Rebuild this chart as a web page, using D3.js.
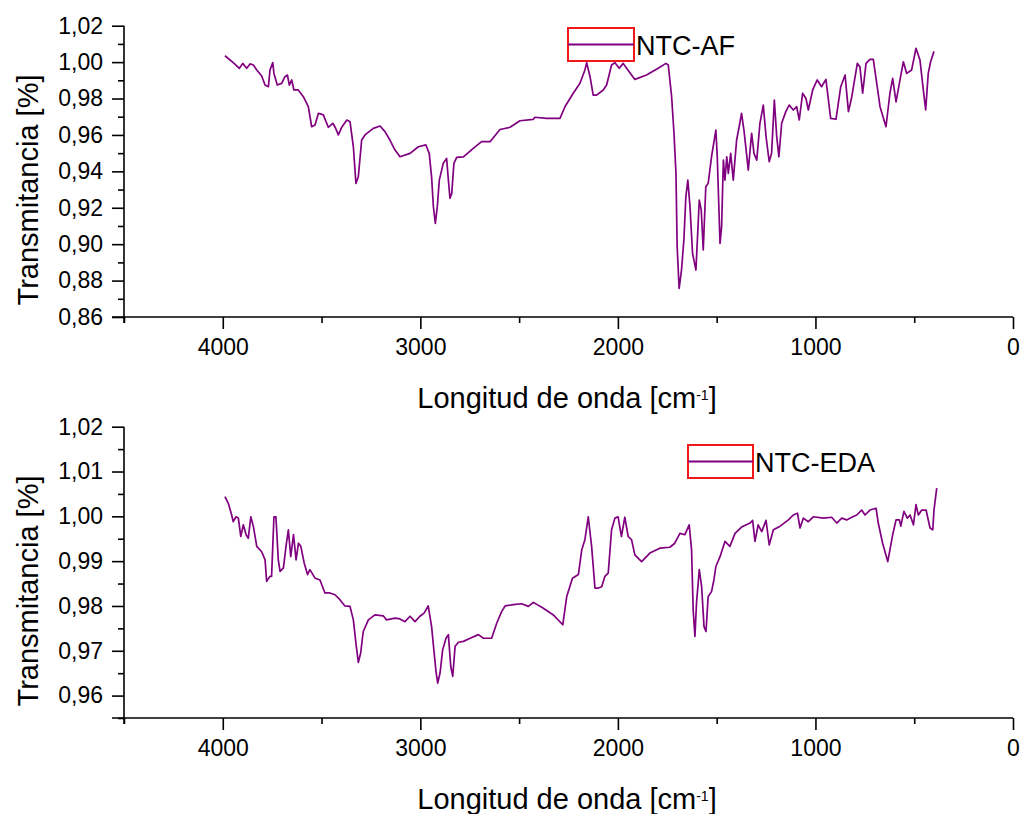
<!DOCTYPE html>
<html>
<head>
<meta charset="utf-8">
<script src="https://cdn.jsdelivr.net/npm/d3@7"></script>
<style>
  html, body { margin: 0; padding: 0; background: #fff; }
  svg text { font-family: "Liberation Sans", Arial, sans-serif; fill: #000; }
</style>
</head>
<body>
<svg width="1021" height="814"></svg>
<script>
// NTC-AF spectrum (wavenumber cm-1, transmittance)
const afWn = [3989,3947,3916,3899,3879,3862,3845,3828,3803,3786,3769,3761,3747,3741,3724,3702,3685,3673,3663,3651,3640,3618,3592,3567,3550,3533,3516,3491,3466,3443,3431,3415,3398,3372,3356,3339,3326,3314,3297,3280,3238,3204,3179,3154,3128,3103,3052,3010,2972,2955,2943,2934,2924,2914,2904,2884,2867,2858,2850,2841,2830,2816,2782,2732,2690,2647,2597,2546,2496,2428,2420,2361,2293,2268,2226,2192,2167,2158,2141,2125,2108,2074,2057,2032,2015,1993,1973,1956,1914,1855,1796,1757,1745,1728,1716,1706,1700,1690,1678,1666,1656,1646,1635,1622,1605,1588,1578,1568,1555,1543,1526,1518,1504,1497,1483,1475,1466,1458,1449,1441,1429,1416,1399,1386,1374,1362,1349,1340,1323,1311,1297,1281,1264,1250,1234,1222,1208,1196,1185,1171,1150,1133,1112,1095,1082,1065,1048,1036,1014,991,969,947,923,896,872,850,833,816,788,775,761,744,724,707,690,673,643,623,609,592,572,555,538,513,491,471,454,442,429,417,400];
const afT = [1.0035,0.9997,0.9966,0.9993,0.9966,0.999,0.9984,0.9957,0.9924,0.9874,0.9865,0.9957,0.9997,0.9938,0.9874,0.9883,0.992,0.9929,0.9874,0.9902,0.9847,0.9847,0.981,0.9755,0.9645,0.9654,0.9719,0.971,0.9642,0.9664,0.9642,0.96,0.9642,0.9682,0.9673,0.9535,0.9334,0.937,0.9572,0.96,0.9636,0.9649,0.9618,0.9572,0.9517,0.948,0.9499,0.9535,0.9545,0.9499,0.937,0.9206,0.9114,0.9206,0.9352,0.9444,0.9471,0.9352,0.9252,0.9279,0.9444,0.9477,0.948,0.9526,0.9563,0.9563,0.963,0.9642,0.9678,0.9686,0.9697,0.9691,0.9691,0.9755,0.9829,0.9884,0.9957,0.9997,0.992,0.9819,0.9819,0.9847,0.9874,0.9984,0.9997,0.9966,0.9993,0.9966,0.9905,0.9929,0.9966,0.9993,0.9984,0.981,0.9609,0.9389,0.8986,0.8757,0.8858,0.9022,0.926,0.9352,0.9206,0.8949,0.8858,0.9242,0.9188,0.8968,0.9315,0.9334,0.948,0.9535,0.9627,0.948,0.9004,0.9096,0.9462,0.9352,0.948,0.9389,0.9499,0.9352,0.9572,0.9645,0.9719,0.9627,0.9499,0.9407,0.9609,0.9499,0.9462,0.9664,0.9764,0.959,0.9453,0.9499,0.9792,0.959,0.948,0.9664,0.9728,0.9764,0.9737,0.9755,0.9682,0.9829,0.98,0.9737,0.9847,0.9902,0.9865,0.9905,0.9691,0.9686,0.9865,0.9929,0.9728,0.981,0.9993,0.9975,0.9829,0.9993,1.0015,1.0015,0.9884,0.9755,0.9645,0.9829,0.9911,0.9782,0.9902,1.0002,0.9938,0.9957,1.0076,1.0012,0.9847,0.9737,0.9938,1.0002,1.0059];

// NTC-EDA spectrum
const edaWn = [3989,3972,3955,3947,3933,3921,3909,3896,3882,3871,3858,3845,3828,3803,3786,3778,3761,3753,3741,3731,3719,3710,3693,3680,3668,3656,3642,3629,3617,3605,3588,3571,3559,3533,3508,3483,3458,3432,3407,3382,3356,3339,3326,3314,3302,3289,3263,3230,3188,3171,3128,3103,3078,3052,3027,3002,2981,2960,2943,2930,2920,2912,2900,2887,2870,2858,2846,2836,2824,2807,2782,2748,2706,2681,2639,2613,2588,2571,2529,2487,2453,2428,2377,2327,2279,2259,2230,2200,2183,2167,2150,2133,2116,2099,2082,2066,2049,2032,2015,1999,1982,1965,1948,1931,1914,1880,1838,1788,1737,1712,1686,1661,1639,1627,1619,1610,1602,1588,1576,1564,1554,1543,1526,1514,1504,1483,1458,1433,1407,1374,1331,1318,1306,1290,1272,1250,1234,1213,1179,1137,1112,1091,1078,1061,1036,1011,960,918,892,867,842,816,791,766,749,724,693,682,660,634,623,609,592,575,568,552,535,521,504,491,479,462,440,420,406,400,386];
const edaT = [1.0044,1.0029,1.0003,0.9988,0.9999,0.9996,0.9955,0.9981,0.9959,0.9951,0.9999,0.9977,0.9933,0.9921,0.9903,0.9855,0.9866,0.9866,0.9999,0.9999,0.9903,0.9877,0.9885,0.9933,0.997,0.991,0.9959,0.9903,0.994,0.9933,0.9896,0.987,0.9881,0.9862,0.9858,0.9829,0.9829,0.9825,0.9814,0.98,0.9799,0.9769,0.9717,0.9674,0.9695,0.9743,0.9769,0.978,0.9778,0.9769,0.9773,0.9771,0.9765,0.9777,0.9765,0.9777,0.9784,0.98,0.9754,0.9695,0.9651,0.9628,0.9651,0.9702,0.9728,0.9736,0.9665,0.9643,0.971,0.9719,0.9721,0.9728,0.9736,0.9728,0.9728,0.9762,0.9788,0.98,0.9803,0.9805,0.9799,0.9808,0.9795,0.978,0.9758,0.9821,0.9862,0.987,0.9925,0.9948,0.9999,0.9933,0.984,0.984,0.9843,0.9866,0.9873,0.997,0.9996,0.9999,0.9955,0.9998,0.9955,0.9948,0.9914,0.9899,0.9918,0.9929,0.9931,0.994,0.9962,0.9959,0.9981,0.9925,0.9792,0.9732,0.9807,0.9881,0.9843,0.9754,0.9743,0.9821,0.9832,0.9858,0.9888,0.991,0.9944,0.9933,0.9962,0.9976,0.9985,0.9991,0.9944,0.9981,0.9966,0.9991,0.9936,0.997,0.9978,0.9992,1.0003,1.0007,0.9974,0.9996,0.9988,0.9999,0.9996,0.9998,0.9985,0.9996,0.9992,0.9998,1.0003,1.0014,1.0003,1.0014,1.0018,0.9985,0.994,0.9899,0.9925,0.9959,0.9992,0.9992,0.9978,1.0011,0.9996,1.0003,0.9981,1.0026,1.0003,1.0014,1.0014,0.9974,0.997,1.0014,1.0063];

const xMajor = [4000, 3000, 2000, 1000, 0];
const xMinor = [4500, 3500, 2500, 1500, 500];
const afYMajor = [0.86, 0.88, 0.90, 0.92, 0.94, 0.96, 0.98, 1.00, 1.02];
const edaYMajor = [0.96, 0.97, 0.98, 0.99, 1.00, 1.01, 1.02];

const lineColor = "#800080";
const svg = d3.select("svg");

const comma = d3.formatLocale({decimal: ",", thousands: ".", grouping: [3], currency: ["", ""]}).format(".2f");

const x = d3.scaleLinear().domain([4500, 0]).range([124, 1013]);

const panels = [
  {wn: afWn, t: afT, name: "NTC-AF", top: 25.7, bottom: 317, domain: [0.86, 1.02], major: afYMajor, minorStep: 0.02,
   legend: [568, 28, 66, 33], titleY: 190},
  {wn: edaWn, t: edaT, name: "NTC-EDA", top: 426.7, bottom: 718, domain: [0.955, 1.02], major: edaYMajor, minorStep: 0.01,
   legend: [688, 445, 65, 33], titleY: 591}
];

panels.forEach(p => {
  const y = d3.scaleLinear().domain(p.domain).range([p.bottom, p.top]);
  const g = svg.append("g");

  // minor ticks halfway between the major ones
  const yMinor = p.major.map(v => v - p.minorStep / 2).filter(v => v >= p.domain[0] - 1e-9);

  // y axis
  g.append("g").attr("transform", "translate(124,0)")
    .call(d3.axisLeft(y).tickValues(yMinor).tickSize(6).tickFormat(""))
    .call(a => a.select(".domain").remove());
  const ya = g.append("g").attr("transform", "translate(124,0)")
    .call(d3.axisLeft(y).tickValues(p.major).tickSize(12).tickPadding(9).tickFormat(comma).tickSizeOuter(0));
  ya.select(".domain").attr("d", `M0,${p.bottom + 6}V${p.top}`);
  ya.selectAll("text").style("font-size", "23px").style("font-family", null);

  // x axis
  g.append("g").attr("transform", `translate(0,${p.bottom})`)
    .call(d3.axisBottom(x).tickValues(xMinor).tickSize(6).tickFormat(""))
    .call(a => a.select(".domain").remove());
  const xa = g.append("g").attr("transform", `translate(0,${p.bottom})`)
    .call(d3.axisBottom(x).tickValues(xMajor).tickSize(12).tickPadding(10).tickFormat(d3.format("d")).tickSizeOuter(0));
  xa.select(".domain").attr("d", `M112,0H1013`);
  xa.selectAll("text").style("font-size", "23px").style("font-family", null);

  g.selectAll(".domain, .tick line").attr("stroke", "#000").attr("stroke-width", 1.6);
  g.selectAll("text").attr("fill", "#000");

  // axis titles
  const xt = g.append("text")
    .attr("x", 567).attr("y", p.bottom + 91)
    .attr("text-anchor", "middle").style("font-size", "29px")
    .text("Longitud de onda [cm");
  xt.append("tspan").attr("baseline-shift", "super").style("font-size", "14px").text("-1");
  xt.append("tspan").text("]");

  g.append("text")
    .attr("transform", `translate(38,${p.titleY}) rotate(-90)`)
    .attr("text-anchor", "middle").style("font-size", "29px")
    .text("Transmitancia [%]");

  // spectrum
  const line = d3.line().x(d => x(d[0])).y(d => y(d[1]));
  g.append("path")
    .datum(d3.zip(p.wn, p.t))
    .attr("fill", "none").attr("stroke", lineColor).attr("stroke-width", 1.7)
    .attr("stroke-linejoin", "round")
    .attr("d", line);

  // legend
  const [lx, ly, lw, lh] = p.legend;
  g.append("rect").attr("x", lx).attr("y", ly).attr("width", lw).attr("height", lh)
    .attr("fill", "none").attr("stroke", "#f01818").attr("stroke-width", 2);
  g.append("line").attr("x1", lx).attr("x2", lx + lw).attr("y1", ly + lh / 2).attr("y2", ly + lh / 2)
    .attr("stroke", lineColor).attr("stroke-width", 2);
  g.append("text").attr("x", lx + lw + 2).attr("y", ly + lh / 2 + 10)
    .style("font-size", "27px").text(p.name);
});
</script>
</body>
</html>
